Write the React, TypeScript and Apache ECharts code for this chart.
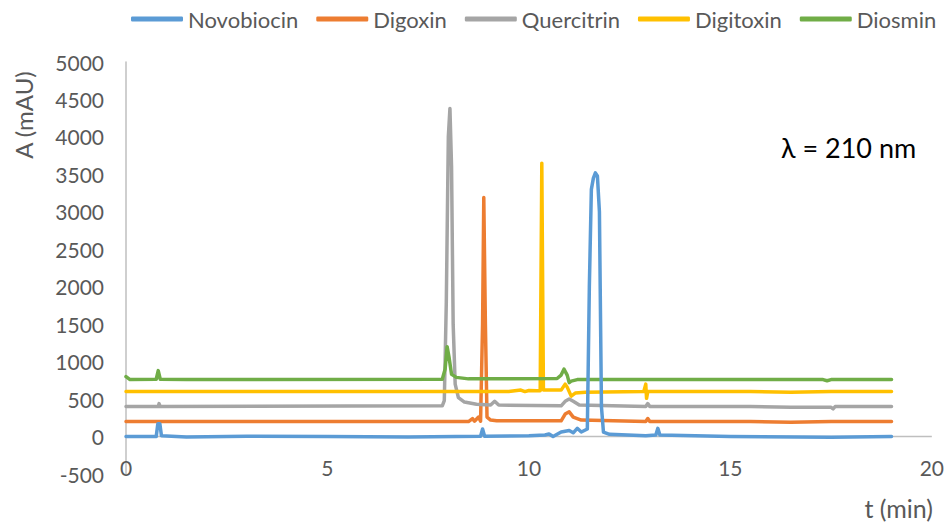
import React, { useEffect, useRef } from "react";
import * as echarts from "echarts";

// Chromatogram traces at 210 nm, each trace offset on the absorbance axis.
const seriesNames = ["Novobiocin", "Digoxin", "Quercitrin", "Digitoxin", "Diosmin"];
const seriesColors = ["#5B9BD5", "#ED7D31", "#A5A5A5", "#FFC000", "#70AD47"];

const novobiocin: [number, number][] = [
  [0, 0], [0.75, 0], [0.79, 170], [0.84, 170], [0.88, 10], [1.5, -5], [3, 5], [5, 0], [7, -5],
  [8.8, 5], [8.85, 100], [8.9, 5], [10, 10], [10.4, 20], [10.5, 35], [10.6, 0], [10.8, 60],
  [11.0, 80], [11.1, 50], [11.2, 110], [11.3, 60], [11.45, 100], [11.5, 2000], [11.55, 3300],
  [11.6, 3450], [11.65, 3520], [11.7, 3480], [11.75, 3000], [11.8, 400], [11.85, 60], [12, 30],
  [12.9, 10], [13.15, 20], [13.2, 110], [13.25, 20], [15, 0], [17.5, -10], [19, 0],
];

const digoxin: [number, number][] = [
  [0, 200], [8.5, 200], [8.6, 240], [8.65, 205], [8.75, 260], [8.8, 205], [8.85, 1500],
  [8.88, 3190], [8.92, 1500], [8.96, 260], [9.05, 220], [9.2, 210], [10.8, 210], [10.9, 300],
  [11.0, 330], [11.1, 260], [11.3, 220], [12.9, 200], [12.95, 240], [13, 200], [15.5, 200],
  [16.5, 190], [17.5, 200], [19, 200],
];

const quercitrin: [number, number][] = [
  [0, 400], [0.8, 400], [0.82, 440], [0.85, 400], [7.85, 410], [7.9, 480], [7.95, 1800],
  [8.0, 4000], [8.04, 4380], [8.08, 3600], [8.12, 1500], [8.17, 700], [8.25, 520], [8.4, 460],
  [8.7, 430], [9.05, 420], [9.15, 470], [9.25, 420], [10.8, 410], [10.9, 470], [11.0, 500],
  [11.1, 470], [11.25, 420], [12.9, 400], [12.95, 440], [13, 400], [15.5, 400], [16.5, 390],
  [17.5, 390], [17.55, 370], [17.6, 400], [19, 400],
];

const digitoxin: [number, number][] = [
  [0, 600], [9.5, 600], [9.8, 620], [9.9, 600], [10.0, 615], [10.2, 610], [10.28, 610],
  [10.32, 3650], [10.36, 620], [10.8, 620], [10.9, 700], [10.95, 660], [11.05, 540],
  [11.15, 580], [11.4, 590], [12.85, 600], [12.9, 700], [12.92, 510], [12.95, 600],
  [15.5, 600], [16.5, 590], [17.5, 600], [19, 600],
];

const diosmin: [number, number][] = [
  [0, 800], [0.1, 760], [0.75, 765], [0.8, 880], [0.85, 765], [1.5, 760], [7.85, 765],
  [7.92, 900], [7.97, 1200], [8.02, 1050], [8.08, 830], [8.2, 790], [8.5, 770], [10.7, 775],
  [10.8, 820], [10.87, 900], [10.95, 820], [11.0, 720], [11.05, 740], [11.2, 760],
  [17.3, 760], [17.4, 745], [17.5, 760], [19, 760],
];

const traces = [novobiocin, digoxin, quercitrin, digitoxin, diosmin];

const yMin = -500;
const yMax = 5000;
const yStep = 500;
const xMin = 0;
const xMax = 20;
const xStep = 5;

// The horizontal axis line crosses at A = 0 across the whole time range.
const zeroLineData: [number, number][] = [[xMin, 0], [xMax, 0]];

const FONT = "Lato, 'Open Sans', sans-serif";
const TEXT_GRAY = "#595959";
const AXIS_GRAY = "#BFBFBF";

export default function App() {
  const ref = useRef<HTMLDivElement>(null);

  useEffect(() => {
    document.body.style.margin = "0";
    if (!ref.current) return;
    const chart = echarts.init(ref.current, undefined, { renderer: "svg" });

    const traceSeries = traces.map((data, i) => ({
      name: seriesNames[i],
      type: "line",
      data,
      showSymbol: false,
      symbol: "none",
      z: i === 0 ? 4 : 2,
      color: seriesColors[i],
      lineStyle: { color: seriesColors[i], width: 3.5, cap: "round", join: "round" },
    }));

    const zeroLine = {
      name: "axis-zero",
      type: "line",
      data: zeroLineData,
      z: 1,
      silent: true,
      showSymbol: false,
      symbol: "none",
      color: AXIS_GRAY,
      lineStyle: { color: AXIS_GRAY, width: 1.5 },
    };

    chart.setOption({
      animation: false,
      backgroundColor: "#ffffff",
      textStyle: { fontFamily: FONT },
      legend: {
        top: 3,
        left: 126,
        itemWidth: 52,
        itemHeight: 5,
        itemGap: 18,
        icon: "roundRect",
        textStyle: { color: TEXT_GRAY, fontSize: 22, fontFamily: FONT },
        data: seriesNames,
      },
      grid: { left: 126, right: 15, top: 62, bottom: 48 },
      xAxis: {
        type: "value",
        min: xMin,
        max: xMax,
        interval: xStep,
        offset: -25,
        axisLine: { show: false },
        axisTick: { show: false },
        splitLine: { show: false },
        axisLabel: { color: TEXT_GRAY, fontSize: 21, margin: 8, fontFamily: FONT },
      },
      yAxis: {
        type: "value",
        min: yMin,
        max: yMax,
        interval: yStep,
        axisLine: { show: true, onZero: false, lineStyle: { color: AXIS_GRAY, width: 1.5 } },
        axisTick: { show: false },
        splitLine: { show: false },
        axisLabel: {
          color: TEXT_GRAY,
          fontSize: 21,
          margin: 22,
          fontFamily: FONT,
          formatter: (v: number) => String(v),
        },
      },
      series: [zeroLine, ...traceSeries],
      graphic: [
        {
          type: "text",
          x: 23,
          y: 115,
          rotation: Math.PI / 2,
          style: {
            text: "A (mAU)",
            fill: TEXT_GRAY,
            font: `24px ${FONT}`,
            align: "center",
            verticalAlign: "middle",
          },
        },
        {
          type: "text",
          x: 933,
          y: 508,
          style: {
            text: "t (min)",
            fill: TEXT_GRAY,
            font: `25px ${FONT}`,
            align: "right",
            verticalAlign: "middle",
          },
        },
        {
          type: "text",
          x: 781,
          y: 147,
          style: {
            text: "λ = 210 nm",
            fill: "#000000",
            font: `27px ${FONT}`,
            align: "left",
            verticalAlign: "middle",
          },
        },
      ],
    });

    return () => chart.dispose();
  }, []);

  return (
    <div
      ref={ref}
      style={{ position: "absolute", left: 0, top: 0, width: 947, height: 522 }}
    />
  );
}
